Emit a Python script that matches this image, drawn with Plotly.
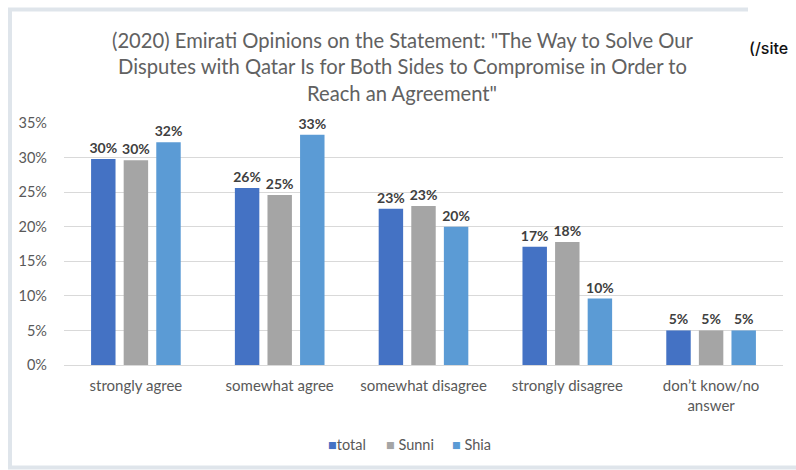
import plotly.graph_objects as go

categories = ["strongly agree", "somewhat agree", "somewhat disagree",
              "strongly disagree", "don\u2019t know/no<br>answer"]
total = [29.8, 25.6, 22.6, 17.1, 5.0]
sunni = [29.6, 24.6, 23.0, 17.8, 5.0]
shia = [32.2, 33.3, 20.0, 9.6, 5.0]
series_names = ["total", "Sunni", "Shia"]
series_colors = ["#4472C4", "#A5A5A5", "#5B9BD5"]
y_ticks = [0, 5, 10, 15, 20, 25, 30, 35]

W, H = 796, 470
L, R, T, B = 64, 13, 123, 105
PW, PH = W - L - R, H - T - B


def px(x):
    return (x - L) / PW


def py(y):
    return (H - B - y) / PH


FONT = "Lato"
fig = go.Figure()
for name, vals, col in zip(series_names, [total, sunni, shia], series_colors):
    fig.add_trace(go.Bar(
        x=categories, y=vals, name=name, marker_color=col,
        marker_line_width=0,
        texttemplate="%{y:.0f}%", textposition="outside",
        constraintext="none",
        textfont=dict(family=FONT, size=14, color="#404040", weight="bold"),
        cliponaxis=False, showlegend=False,
    ))

title_lines = [
    "(2020) Emirati Opinions on the Statement: \"The Way to Solve Our",
    "Disputes with Qatar Is for Both Sides to Compromise in Order to",
    "Reach an Agreement\"",
]
annotations = []
for i, line in enumerate(title_lines):
    annotations.append(dict(
        text=line, xref="paper", yref="paper", x=px(402), y=py(40 + 26.5 * i),
        xanchor="center", yanchor="middle", showarrow=False,
        font=dict(family=FONT, size=20.2, color="#616161"),
    ))
annotations.append(dict(
    text="(/site", xref="paper", yref="paper", x=px(747), y=py(48),
    xanchor="left", yanchor="middle", showarrow=False,
    font=dict(family="Inter", size=16, color="#111111", weight=500),
))

# legend drawn as text entries
legend_x = [328, 386, 452]
for name, col, lx in zip(series_names, series_colors, legend_x):
    annotations.append(dict(
        text=f'<span style="color:{col}">\u25A0</span>{name}' if name == "total"
        else f'<span style="color:{col}">\u25A0</span> {name}',
        xref="paper", yref="paper", x=px(lx - 2), y=py(444),
        xanchor="left", yanchor="middle", showarrow=False,
        font=dict(family=FONT, size=14.5, color="#595959"),
    ))

border = "#dfe5eb"
shapes = [
    dict(type="line", xref="paper", yref="paper", x0=px(8), x1=px(748),
         y0=py(9.5), y1=py(9.5), line=dict(color=border, width=4)),
    dict(type="line", xref="paper", yref="paper", x0=px(10), x1=px(10),
         y0=py(8), y1=py(469), line=dict(color=border, width=4)),
    dict(type="line", xref="paper", yref="paper", x0=px(8), x1=px(800),
         y0=py(467.5), y1=py(467.5), line=dict(color=border, width=4)),
]

fig.update_layout(
    width=W, height=H,
    margin=dict(l=L, r=R, t=T, b=B, autoexpand=False),
    paper_bgcolor="white", plot_bgcolor="white",
    barmode="group", bargap=0.32, bargroupgap=0.25,
    font=dict(family=FONT, color="#595959", size=14),
    showlegend=False,
    annotations=annotations, shapes=shapes,
    xaxis=dict(showline=False, ticks="", tickfont=dict(size=15, color="#595959"),
               ticklabelstandoff=10, fixedrange=True),
    yaxis=dict(range=[0, 35], tickvals=y_ticks,
               ticktext=[f"{v}%" for v in y_ticks],
               showgrid=True, gridcolor="#d9d9d9", gridwidth=1,
               zeroline=True, zerolinecolor="#d9d9d9", zerolinewidth=1,
               showline=False, ticks="", tickfont=dict(size=14.5, color="#595959"),
               ticklabelstandoff=16, fixedrange=True),
)

fig.write_html("out.html")
